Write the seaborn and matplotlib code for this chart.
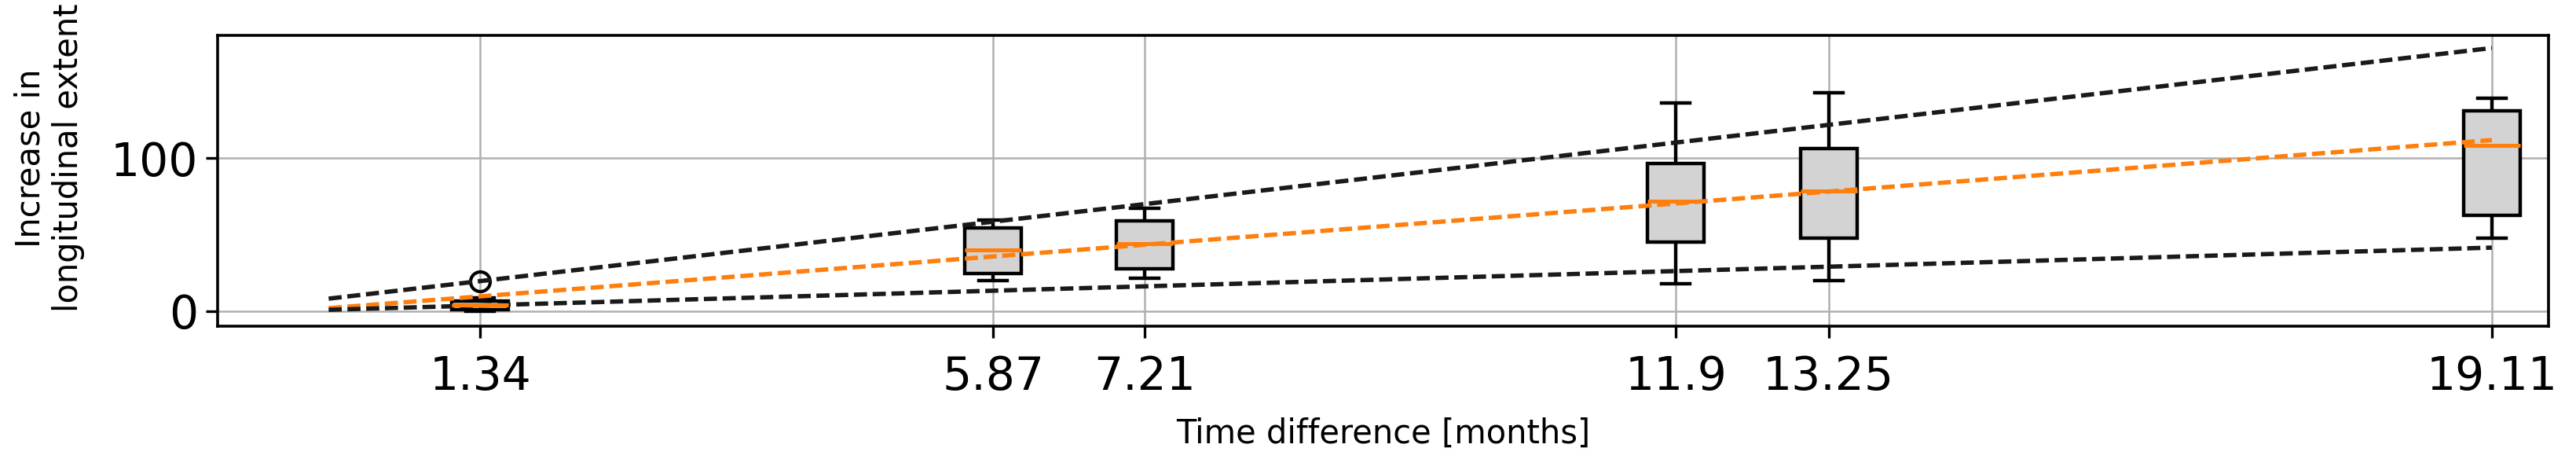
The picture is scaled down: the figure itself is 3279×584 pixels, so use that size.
import numpy as np
import pandas as pd
import matplotlib
matplotlib.use("Agg")
import matplotlib.pyplot as plt
import seaborn as sns

# ---- data ----
time_diff = [1.34, 5.87, 7.21, 11.9, 13.25, 19.11]
tick_labels = ["1.34", "5.87", "7.21", "11.9", "13.25", "19.11"]

# samples per group chosen so that quartiles / whiskers / outliers match the picture
g_134 = [0.0, 0.5, 1.0, 2.5, 4.1, 5.5, 6.9, 8.7, 19.4]
g_587 = [19.9, 24.8, 40.1, 54.5, 59.6]
g_721 = [21.6, 27.9, 44.2, 59.3, 67.4]
g_119 = [18.0, 45.1, 72.0, 96.5, 136.2]
g_1325 = [19.9, 48.0, 78.8, 106.3, 142.8]
g_1911 = [47.7, 62.6, 108.5, 131.3, 139.3]
groups = [g_134, g_587, g_721, g_119, g_1325, g_1911]

# bounding / trend lines
line_x = [0.0, 19.11]
upper_y = [8.2, 172.2]
trend_y = [2.0, 112.0]
lower_y = [0.9, 41.6]

rows = []
for t, vals in zip(time_diff, groups):
    for v in vals:
        rows.append({"time": t, "value": v})
df = pd.DataFrame(rows)

fig = plt.figure(figsize=(16.4, 2.92), dpi=200)
ax = fig.add_axes([0.0845, 0.2894, 0.9045, 0.6336])
ax.set_axisbelow(True)
ax.grid(True, color="#b0b0b0", linewidth=0.9)

box_w = 0.5 / np.min(np.diff(time_diff))
sns.boxplot(data=df, x="time", y="value", native_scale=True, ax=ax,
            width=box_w, color="lightgray", saturation=1, linecolor="black",
            linewidth=1.6, fliersize=9, whis=1.5,
            medianprops=dict(color="C1", linewidth=1.8),
            flierprops=dict(marker="o", markerfacecolor="none",
                            markeredgecolor="black", markeredgewidth=1.5))

ax.plot(line_x, upper_y, color="#1a1a1a", lw=2.0, dashes=(3.0, 1.3))
ax.plot(line_x, trend_y, color="C1", lw=2.0, dashes=(3.0, 1.3))
ax.plot(line_x, lower_y, color="#1a1a1a", lw=2.0, dashes=(3.0, 1.3))

ax.set_xlim(-0.98, 19.61)
ax.set_ylim(-9.8, 180.5)
ax.set_xticks(time_diff)
ax.set_xticklabels(tick_labels)
ax.set_yticks([0, 100])
ax.tick_params(axis="both", labelsize=21, length=5.5, width=1.2)
ax.tick_params(axis="x", pad=7.5)
for s in ax.spines.values():
    s.set_linewidth(1.3)

ax.set_xlabel("Time difference [months]", fontsize=15, labelpad=8)
ax.set_ylabel("Increase in\nlongitudinal extent", fontsize=15)
ax.yaxis.set_label_coords(-0.057, 0.578)

fig.savefig("out.png", dpi=200)
